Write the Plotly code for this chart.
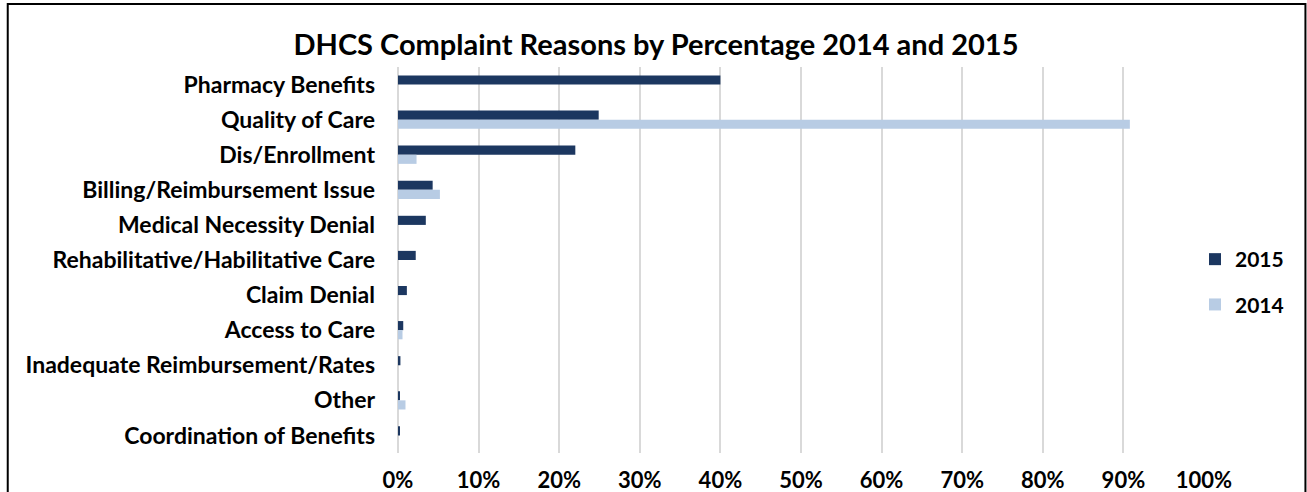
import plotly.graph_objects as go

categories = [
    "Pharmacy Benefits",
    "Quality of Care",
    "Dis/Enrollment",
    "Billing/Reimbursement Issue",
    "Medical Necessity Denial",
    "Rehabilitative/Habilitative Care",
    "Claim Denial",
    "Access to Care",
    "Inadequate Reimbursement/Rates",
    "Other",
    "Coordination of Benefits",
]
values_2015 = [0.400, 0.249, 0.220, 0.043, 0.0345, 0.022, 0.011, 0.0065, 0.003, 0.002, 0.002]
values_2014 = [0.0, 0.908, 0.023, 0.052, 0.0, 0.0, 0.0, 0.0056, 0.0, 0.0093, 0.0]
tick_vals = [i / 10 for i in range(11)]
tick_text = [f"{i * 10}%" for i in range(11)]

FONT = "Lato"
DARK = "#1c3760"
LIGHT = "#b8cce4"

fig = go.Figure()
fig.add_trace(go.Bar(y=categories, x=values_2015, orientation="h", name="2015",
                     marker=dict(color=DARK, line=dict(width=0)), legendgroup="a"))
fig.add_trace(go.Bar(y=categories, x=values_2014, orientation="h", name="2014",
                     marker=dict(color=LIGHT, line=dict(width=0)), legendgroup="b"))

W, H = 1307, 492
L, R = 397.5, 1204
T, B = 67, 453

def px_x(p):
    return (p - L) / (R - L)

def px_y(p):
    return (B - p) / (B - T)

fig.update_layout(
    width=W, height=H,
    margin=dict(l=L, r=W - R, t=T, b=H - B, autoexpand=False),
    paper_bgcolor="white", plot_bgcolor="white",
    barmode="group", bargap=0.48, bargroupgap=0,
    font=dict(family=FONT, color="black"),
    title=dict(text="<b>DHCS Complaint Reasons by Percentage 2014 and 2015</b>",
               x=656 / W, xanchor="center", xref="container",
               y=1 - 45 / H, yanchor="middle", yref="container",
               font=dict(family=FONT, size=29, color="black")),
    xaxis=dict(range=[0, 1], tickvals=tick_vals, ticktext=tick_text,
               showgrid=True, gridcolor="#d9d9d9", gridwidth=2,
               zeroline=True, zerolinecolor="#d9d9d9", zerolinewidth=2,
               showline=False, ticks="", ticklabelstandoff=12,
               tickfont=dict(family=FONT, size=22, color="black", weight="bold")),
    yaxis=dict(autorange="reversed", showgrid=False, zeroline=False, showline=False,
               ticks="", ticklabelstandoff=22,
               tickfont=dict(family=FONT, size=23, color="black", weight="bold")),
    legend=dict(x=px_x(1195), xanchor="left", y=px_y(239), yanchor="top",
                tracegroupgap=15, itemwidth=30,
                font=dict(family=FONT, size=21, color="black", weight="bold"),
                bgcolor="rgba(0,0,0,0)"),
    showlegend=True,
    shapes=[dict(type="rect", xref="paper", yref="paper",
                 x0=px_x(7), x1=px_x(1305.5), y0=px_y(520), y1=px_y(4),
                 line=dict(color="black", width=2), fillcolor="rgba(0,0,0,0)",
                 layer="above")],
)

fig.write_html("out.html", config={"displayModeBar": False},
               post_script="document.body.style.margin='0px';")
